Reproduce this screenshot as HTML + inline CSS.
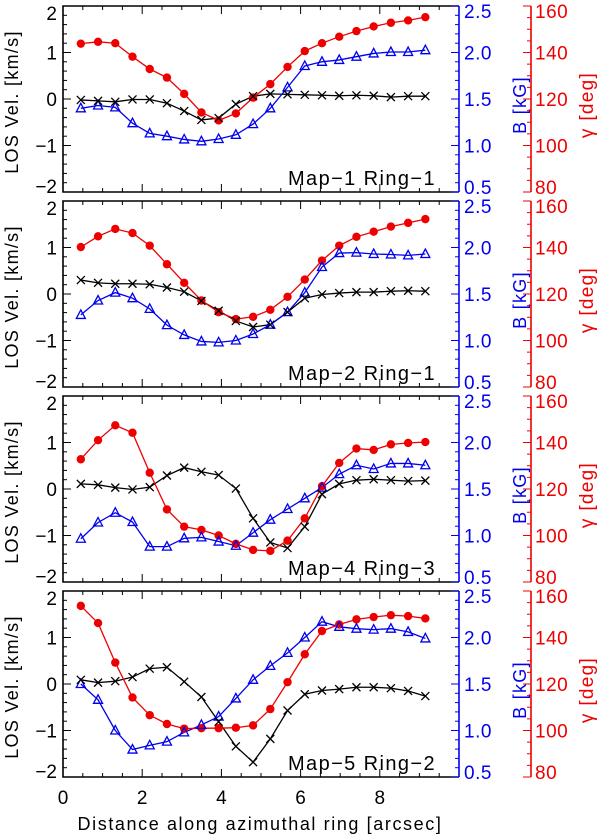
<!DOCTYPE html>
<html><head><meta charset="utf-8">
<style>
html,body{margin:0;padding:0;background:#fff;}
svg{display:block;font-family:"Liberation Sans",sans-serif;}
</style></head>
<body>
<svg id="chart" width="600" height="834" viewBox="0 0 600 834" xmlns="http://www.w3.org/2000/svg"></svg>
<script>
// ---- data ----
const distance = [0.45,0.885,1.32,1.755,2.19,2.625,3.06,3.495,3.93,4.365,4.8,5.235,5.67,6.105,6.54,6.975,7.41,7.845,8.28,8.715,9.15];
const panelLabels = ["Map\u22121  Ring\u22121","Map\u22122  Ring\u22121","Map\u22124  Ring\u22123","Map\u22125  Ring\u22122"];
const losP1 = [-0.02,-0.04,-0.06,-0.01,-0.01,-0.09,-0.26,-0.45,-0.41,-0.11,0.06,0.11,0.1,0.09,0.08,0.07,0.08,0.07,0.04,0.06,0.06];
const bP1 = [1.40,1.43,1.41,1.24,1.13,1.10,1.065,1.045,1.07,1.115,1.23,1.40,1.625,1.855,1.90,1.92,1.955,1.99,2.005,2.005,2.025];
const gP1 = [143.8,144.6,144,138.2,132.9,129.2,122.2,114.2,110.8,113.8,120.6,126.4,133.8,140.6,144,146.8,149.2,151.2,152.8,153.8,155.2];
const losP2 = [0.3,0.24,0.22,0.22,0.21,0.14,0.05,-0.15,-0.36,-0.58,-0.71,-0.66,-0.39,-0.09,-0.01,0.02,0.04,0.04,0.06,0.07,0.06];
const bP2 = [1.275,1.43,1.515,1.455,1.34,1.165,1.06,0.99,0.98,1.0,1.07,1.17,1.305,1.515,1.79,1.94,1.945,1.93,1.925,1.915,1.93];
const gP2 = [140.2,144.8,148,146.2,140.8,132.8,124.8,117.2,112.2,109.2,110.2,113.2,118.8,126.2,134.4,140.8,144.6,146.8,149,150.6,152.2];
const losP3 = [0.11,0.09,0.03,-0.01,0.04,0.29,0.46,0.37,0.3,0.01,-0.63,-1.15,-1.27,-0.81,-0.11,0.11,0.19,0.21,0.19,0.17,0.18];
const bP3 = [0.965,1.14,1.245,1.145,0.88,0.88,0.97,0.98,0.935,0.89,1.03,1.17,1.285,1.40,1.515,1.66,1.755,1.715,1.775,1.775,1.755];
const gP3 = [132.8,141,147.4,144.2,127,111.2,103.8,102.4,100,96.4,93.8,93.4,97.8,107.4,121.2,131.2,137.4,136.8,139.2,139.8,140.2];
const losP4 = [0.09,0.03,0.06,0.15,0.33,0.36,0.05,-0.28,-0.81,-1.34,-1.68,-1.18,-0.57,-0.22,-0.14,-0.11,-0.07,-0.07,-0.09,-0.15,-0.26];
const bP4 = [1.5,1.33,1.0,0.795,0.84,0.88,0.98,1.06,1.15,1.345,1.545,1.695,1.835,2.0,2.17,2.115,2.095,2.085,2.095,2.06,1.99];
const gP4 = [153.6,146.2,129.2,114.2,106.6,102.8,100.8,101,101,101.2,102.2,109.2,120.8,132.8,142.8,145.6,147.8,148.8,149.6,149.2,148.2];
const xTicks = [0,2,4,6,8];
const losTicks = [-2,-1,0,1,2];
const bTicks = ["0.5","1.0","1.5","2.0","2.5"];
const gTicks = [80,100,120,140,160];

const losSeries=[losP1,losP2,losP3,losP4], bSeries=[bP1,bP2,bP3,bP4], gSeries=[gP1,gP2,gP3,gP4];
const NS="http://www.w3.org/2000/svg";
const svg=document.getElementById('chart');
const L=63,R=459,H=186,X0=0,X1=10;
const xS=x=>L+(x-X0)/(X1-X0)*(R-L);
function mk(tag,attrs,parent){const e=document.createElementNS(NS,tag);for(const k in attrs)e.setAttribute(k,attrs[k]);(parent||svg).appendChild(e);return e;}
function txt(s,attrs,parent){const e=mk('text',attrs,parent);e.textContent=s;return e;}

for(let p=0;p<4;p++){
  const T=6+195*p, B=T+H;
  const vS=v=>T+H/2-v*(H/4);
  const bS=b=>vS((b-1.5)*2);
  const gS=g=>vS((g-120)/20);
  const g=mk('g',{});
  
  
  const fr=mk('path',{d:`M${R},${T}H${L}V${B}H${R}`,fill:'none',stroke:'#000','stroke-width':1.6},g);
  
  
  for(let x=0;x<=9.5;x+=0.5){
    const maj=Math.abs(x/2-Math.round(x/2))<1e-6, len=maj?8:4, px=xS(x);
    mk('line',{x1:px,x2:px,y1:B,y2:B-len,stroke:'#000','stroke-width':1},g);
    mk('line',{x1:px,x2:px,y1:T,y2:T+len,stroke:'#000','stroke-width':1},g);
  }
  for(let v=-2;v<=2.001;v+=0.2){
    const maj=Math.abs(v-Math.round(v))<1e-6,len=maj?8:4,py=vS(v);
    mk('line',{x1:L,x2:L+len,y1:py,y2:py,stroke:'#000','stroke-width':1},g);
  }
  losTicks.forEach(v=>{
    let py=vS(v)+7; if(v===2)py+=7; if(v===-2)py-=6;
    const t=txt(v<0?'\u2212'+Math.abs(v):String(v),{x:L-6,y:py,'text-anchor':'end','font-size':19,fill:'#000'},g);
    
    
  });
  const yl=txt('LOS Vel. [km/s]',{x:0,y:0,transform:`translate(18,${T+H/2+3}) rotate(-90)`,'text-anchor':'middle','font-size':18,'letter-spacing':1.3,fill:'#000'},g);
  
  
  const ba=mk('line',{x1:R,x2:R,y1:T,y2:B,stroke:'#0000ee','stroke-width':1.6},g);
  
  
  for(let b=0.5;b<=2.501;b+=0.1){
    const maj=Math.abs(b*2-Math.round(b*2))<1e-6,len=maj?8:4,py=bS(b);
    mk('line',{x1:R,x2:R-len,y1:py,y2:py,stroke:'#0000ee','stroke-width':1},g);
  }
  bTicks.forEach((s,i)=>{
    let py=bS(parseFloat(s))+7; if(i===4)py+=5; if(i===0)py-=5;
    const t=txt(s,{x:R+5,y:py,'font-size':19,'letter-spacing':0.5,fill:'#0000ee'},g);
    
    
  });
  const bl=txt('B [kG]',{x:0,y:0,transform:`translate(${R+67},${T+H/2+6}) rotate(-90)`,'text-anchor':'middle','font-size':18,'letter-spacing':1.3,fill:'#0000ee'},g);
  
  
  const GX=531;
  const ga=mk('line',{x1:GX,x2:GX,y1:T,y2:B,stroke:'#ee0000','stroke-width':1.6},g);
  
  
  for(let v=80;v<=160;v+=5){
    const maj=v%20===0,len=maj?8:4,py=gS(v);
    mk('line',{x1:GX,x2:GX-len,y1:py,y2:py,stroke:'#ee0000','stroke-width':1},g);
  }
  gTicks.forEach((v,i)=>{
    let py=gS(v)+7; if(i===4)py+=5; if(i===0)py-=5;
    const t=txt(String(v),{x:GX+4,y:py,'font-size':19,'letter-spacing':0.5,fill:'#ee0000'},g);
    
    
  });
  const gl=txt('\u03b3 [deg]',{x:0,y:0,transform:`translate(${GX+62},${T+H/2+6}) rotate(-90)`,'text-anchor':'middle','font-size':19,'letter-spacing':1.3,fill:'#ee0000'},g);
  
  
  const pl=txt(panelLabels[p],{x:436,y:B-7,'text-anchor':'end','font-size':20,'letter-spacing':1.4,fill:'#000'},g);
  
  
  const los=losSeries[p], bb=bSeries[p], gg=gSeries[p];
  const lp=mk('polyline',{points:distance.map((x,i)=>xS(x)+','+vS(los[i])).join(' '),fill:'none',stroke:'#000','stroke-width':1.3},g);
  
  
  const bp=mk('polyline',{points:distance.map((x,i)=>xS(x)+','+bS(bb[i])).join(' '),fill:'none',stroke:'#0000ee','stroke-width':1.3},g);
  
  
  const gp=mk('polyline',{points:distance.map((x,i)=>xS(x)+','+gS(gg[i])).join(' '),fill:'none',stroke:'#ee0000','stroke-width':1.3},g);
  
  
  distance.forEach((x,i)=>{
    const px=xS(x);
    const c=mk('circle',{cx:px,cy:gS(gg[i]),r:4.2,fill:'#ee0000'},g);
    
    
    const py=bS(bb[i]);
    const tr=mk('path',{d:`M${px-4.5},${py+3.5}L${px+4.5},${py+3.5}L${px},${py-5}Z`,fill:'none',stroke:'#0000ee','stroke-width':1.3},g);
    
    
    const ly=vS(los[i]);
    const cr=mk('path',{d:`M${px-4},${ly-4}L${px+4},${ly+4}M${px-4},${ly+4}L${px+4},${ly-4}`,stroke:'#000','stroke-width':1.3},g);
    
    
  });
  if(p===3){
    xTicks.forEach(x=>{
      const t=txt(String(x),{x:xS(x),y:B+27,'text-anchor':'middle','font-size':19,fill:'#000'},g);
      
      
    });
  }
}
const xl=txt('Distance along azimuthal ring [arcsec]',{x:260,y:830,'text-anchor':'middle','font-size':18,'letter-spacing':1.6,fill:'#000'});


</script>
</body></html>
